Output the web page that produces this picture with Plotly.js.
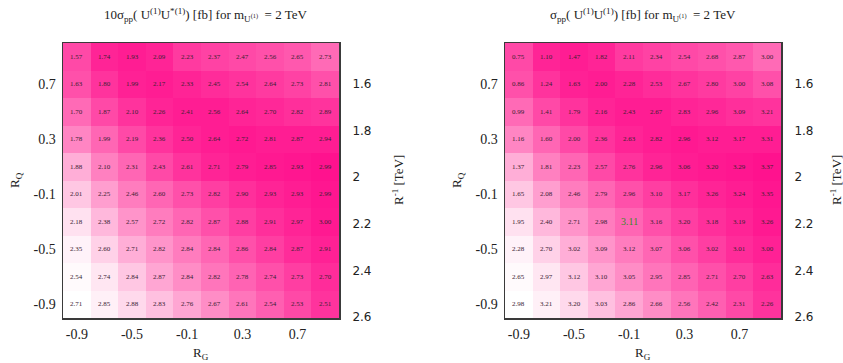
<!DOCTYPE html>
<html>
<head>
<meta charset="utf-8">
<script src="https://cdn.plot.ly/plotly-3.0.1.min.js"></script>
<style>html,body{margin:0;padding:0;background:#fff;}#chart{width:843px;height:363px;}</style>
</head>
<body>
<div id="chart"></div>
<script>
// Grid coordinates
var rG = [-0.9, -0.7, -0.5, -0.3, -0.1, 0.1, 0.3, 0.5, 0.7, 0.9];
var rQTopToBottom = [0.9, 0.7, 0.5, 0.3, 0.1, -0.1, -0.3, -0.5, -0.7, -0.9];
var xTicks = [-0.9, -0.5, -0.1, 0.3, 0.7];
var yTicks = [-0.9, -0.5, -0.1, 0.3, 0.7];
var rInvTicks = [1.6, 1.8, 2, 2.2, 2.4, 2.6];

// 10 sigma_pp(U U*) [fb], rows from R_Q = 0.9 (top) to -0.9 (bottom)
var sigmaUUstar = [
  [1.57,1.74,1.93,2.09,2.23,2.37,2.47,2.56,2.65,2.73],
  [1.63,1.80,1.99,2.17,2.33,2.45,2.54,2.64,2.73,2.81],
  [1.70,1.87,2.10,2.26,2.41,2.56,2.64,2.70,2.82,2.89],
  [1.78,1.99,2.19,2.36,2.50,2.64,2.72,2.81,2.87,2.94],
  [1.88,2.10,2.31,2.43,2.61,2.71,2.79,2.85,2.93,2.99],
  [2.01,2.25,2.46,2.60,2.73,2.82,2.90,2.93,2.93,2.99],
  [2.18,2.38,2.57,2.72,2.82,2.87,2.88,2.91,2.97,3.00],
  [2.35,2.60,2.71,2.82,2.84,2.84,2.86,2.84,2.87,2.91],
  [2.54,2.74,2.84,2.87,2.84,2.82,2.78,2.74,2.73,2.70],
  [2.71,2.85,2.88,2.83,2.76,2.67,2.61,2.54,2.53,2.51]
];

// sigma_pp(U U) [fb]
var sigmaUU = [
  [0.75,1.10,1.47,1.82,2.11,2.34,2.54,2.68,2.87,3.00],
  [0.86,1.24,1.63,2.00,2.28,2.53,2.67,2.80,3.00,3.08],
  [0.99,1.41,1.79,2.16,2.43,2.67,2.83,2.96,3.09,3.21],
  [1.16,1.60,2.00,2.36,2.63,2.82,2.96,3.12,3.17,3.31],
  [1.37,1.81,2.23,2.57,2.76,2.96,3.06,3.20,3.29,3.37],
  [1.65,2.08,2.46,2.79,2.96,3.10,3.17,3.26,3.24,3.35],
  [1.95,2.40,2.71,2.98,3.11,3.16,3.20,3.18,3.19,3.26],
  [2.28,2.70,3.02,3.09,3.12,3.07,3.06,3.02,3.01,3.00],
  [2.65,2.97,3.12,3.10,3.05,2.95,2.85,2.71,2.70,2.63],
  [2.98,3.21,3.20,3.03,2.86,2.66,2.56,2.42,2.31,2.26]
];

// Cell shading, same layout
var shade = [
  [0.75,0.92,0.95,0.92,0.82,0.78,0.75,0.72,0.68,0.60],
  [0.72,0.85,0.93,0.95,0.92,0.88,0.85,0.82,0.78,0.72],
  [0.60,0.75,0.85,0.92,0.95,0.95,0.92,0.90,0.87,0.85],
  [0.48,0.62,0.75,0.85,0.92,0.95,0.97,0.95,0.95,0.95],
  [0.32,0.50,0.62,0.75,0.85,0.92,0.95,0.97,0.98,1.00],
  [0.22,0.38,0.52,0.62,0.72,0.80,0.87,0.92,0.95,0.98],
  [0.12,0.28,0.42,0.52,0.62,0.72,0.80,0.87,0.92,0.97],
  [0.05,0.18,0.32,0.42,0.52,0.62,0.72,0.80,0.88,0.93],
  [0.02,0.10,0.22,0.35,0.45,0.55,0.63,0.72,0.80,0.88],
  [0.00,0.06,0.15,0.25,0.35,0.45,0.55,0.65,0.75,0.85]
];

// highlighted cell in right panel (row index, column index)
var highlightRow = 6, highlightCol = 4;

var colorscale = [[0, '#ffffff'], [0.5, '#ff80c0'], [1, '#ff128e']];
var SERIF = 'Liberation Serif';
var SANS = 'DejaVu Sans';

function heat(xa, ya) {
  return {
    type: 'heatmap', x: rG, y: rQTopToBottom, z: shade,
    colorscale: colorscale, zmin: 0, zmax: 1, showscale: false,
    xaxis: xa, yaxis: ya, hoverinfo: 'skip', xgap: 0, ygap: 0
  };
}

// invisible traces for right-hand axes
function dummy(xa, ya) {
  return {type: 'scatter', x: [0], y: [2], mode: 'markers', marker: {opacity: 0},
          xaxis: xa, yaxis: ya, hoverinfo: 'skip', showlegend: false};
}

var data = [heat('x', 'y'), heat('x2', 'y2'), dummy('x', 'y3'), dummy('x2', 'y4')];

var yTop = 1 - 43 / 363, yBot = 1 - 318 / 363;
var dom1 = [63 / 843, 339 / 843], dom2 = [505 / 843, 781 / 843];
var tickFont = {family: SERIF, size: 14, color: '#222'};

function xAxis(dom, anchor) {
  return {domain: dom, anchor: anchor, range: [-1, 1], tickvals: xTicks,
          ticktext: xTicks.map(String), ticks: 'outside', ticklen: 3, tickcolor: 'rgba(0,0,0,0)',
          showgrid: false, zeroline: false, showline: true, mirror: true,
          linecolor: '#3a3a3a', linewidth: 1.5, tickfont: tickFont};
}
function yAxis(anchor) {
  return {domain: [yBot, yTop], anchor: anchor, range: [-1, 1], tickvals: yTicks,
          ticktext: yTicks.map(String), ticks: 'outside', ticklen: 3, tickcolor: 'rgba(0,0,0,0)',
          showgrid: false, zeroline: false, showline: true, mirror: true,
          linecolor: '#3a3a3a', linewidth: 1.5, tickfont: tickFont};
}
function rAxis(over, anchor) {
  return {overlaying: over, anchor: anchor, side: 'right', range: [2.604, 1.424],
          tickvals: rInvTicks, ticktext: rInvTicks.map(String),
          ticks: 'outside', ticklen: 10, tickcolor: 'rgba(0,0,0,0)',
          showgrid: false, zeroline: false, showline: false,
          tickfont: {family: SANS, size: 12, color: '#222'}};
}

var titleFont = {family: SERIF, size: 13, color: '#222'};
var axFont = {family: SERIF, size: 13, color: '#222'};

function paperText(x, y, text, font, angle) {
  return {xref: 'paper', yref: 'paper', x: x / 843, y: 1 - y / 363, xanchor: 'center', yanchor: 'middle',
          showarrow: false, text: text, font: font, textangle: angle || 0};
}

var annotations = [
  paperText(205, 15, '10σ<sub>pp</sub>( U<sup>(1)</sup>U<sup>*(1)</sup>) [fb] for m<sub>U<sup>(1)</sup></sub>  = 2 TeV', titleFont),
  paperText(643, 15, 'σ<sub>pp</sub>( U<sup>(1)</sup>U<sup>(1)</sup>) [fb] for m<sub>U<sup>(1)</sup></sub>  = 2 TeV', titleFont),
  paperText(201, 353, 'R<sub>G</sub>', axFont),
  paperText(643, 353, 'R<sub>G</sub>', axFont),
  paperText(15, 180, 'R<sub>Q</sub>', axFont, -90),
  paperText(457, 180, 'R<sub>Q</sub>', axFont, -90),
  paperText(398, 180, 'R<sup>-1</sup> [TeV]', axFont, -90),
  paperText(836, 180, 'R<sup>-1</sup> [TeV]', axFont, -90)
];

var cellFont = {family: SERIF, size: 7, color: '#3a2232'};
function addCells(values, xa, ya, hl) {
  values.forEach(function (row, i) {
    row.forEach(function (v, j) {
      var special = hl && i === hl[0] && j === hl[1];
      annotations.push({xref: xa, yref: ya, x: rG[j], y: rQTopToBottom[i], showarrow: false,
        xanchor: 'center', yanchor: 'middle', text: v.toFixed(2),
        font: special ? {family: SERIF, size: 10, color: '#3a8a2a'} : cellFont});
    });
  });
}
addCells(sigmaUUstar, 'x', 'y', null);
addCells(sigmaUU, 'x2', 'y2', [highlightRow, highlightCol]);

var layout = {
  width: 843, height: 363, margin: {l: 0, r: 0, t: 0, b: 0},
  paper_bgcolor: '#ffffff', plot_bgcolor: '#ffffff', showlegend: false,
  xaxis: xAxis(dom1, 'y'), yaxis: yAxis('x'),
  xaxis2: xAxis(dom2, 'y2'), yaxis2: yAxis('x2'),
  yaxis3: rAxis('y', 'x'), yaxis4: rAxis('y2', 'x2'),
  annotations: annotations
};

Plotly.newPlot('chart', data, layout, {staticPlot: true, displayModeBar: false});
</script>
</body>
</html>
